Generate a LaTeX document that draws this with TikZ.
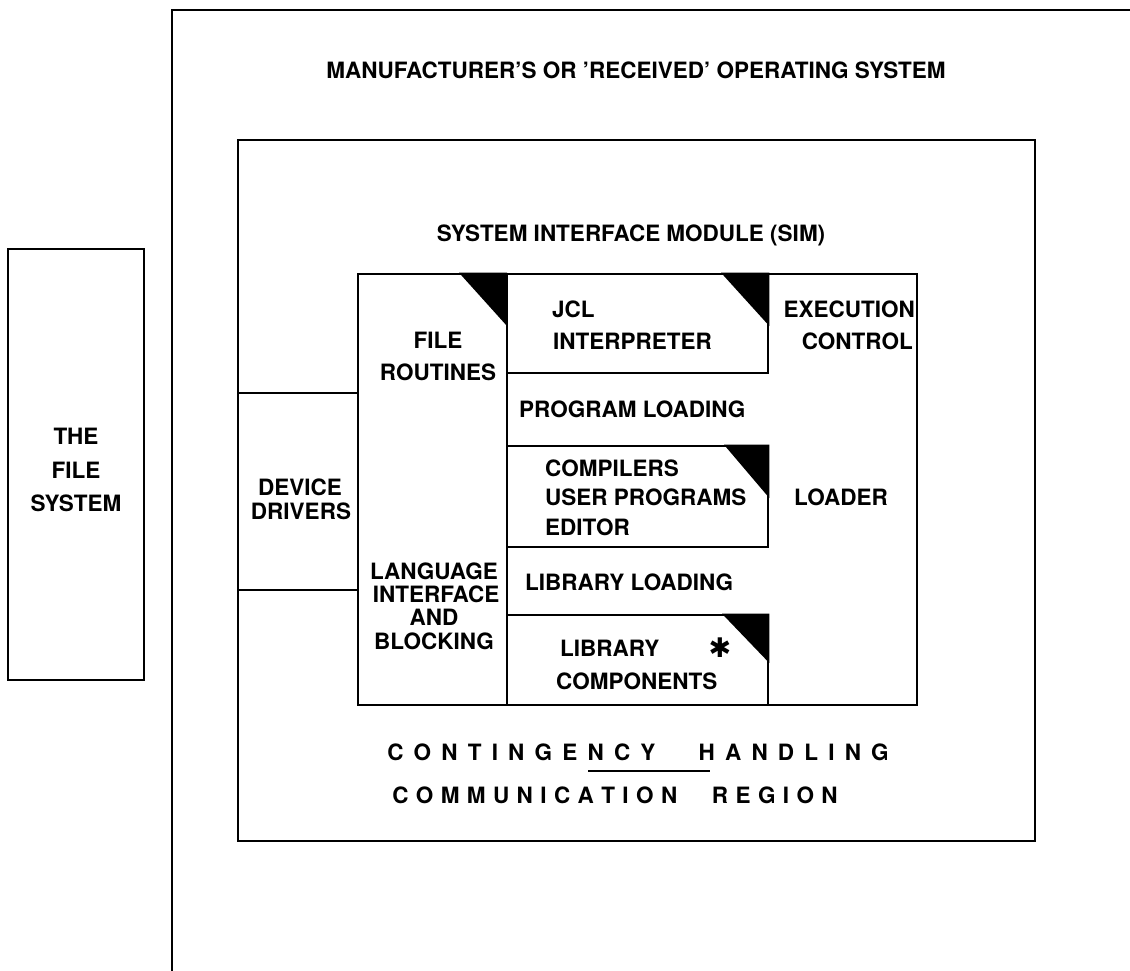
\documentclass[tikz,border=0pt]{standalone}
\usepackage{fontspec}
\setmainfont{TeX Gyre Heros}
\newfontfamily\symfont{DejaVu Sans}
\makeatletter
\newcommand\lsp[2]{\def\lsp@k{#1}\lsp@loop#2\@nil}
\def\lsp@loop#1#2\@nil{#1\ifx\relax#2\relax\else\kern\lsp@k\lsp@loop#2\@nil\fi}
\makeatother
\begin{document}
\begin{tikzpicture}[x=1pt,y=-1pt,
  frame/.style={draw, line width=2.8pt, inner sep=0pt, outer sep=0pt},
  thinframe/.style={draw, line width=2.2pt, inner sep=0pt, outer sep=0pt},
  rule/.style={line width=2.8pt},
  thinrule/.style={line width=2.2pt},
  corner/.style={fill=black},
  lbl/.style={inner sep=0pt, anchor=base, font=\fontsize{22.5}{26}\selectfont\bfseries},
  lblL/.style={lbl, anchor=base west},
  lblR/.style={lbl, anchor=base east}]
\useasboundingbox (0,0) rectangle (1130,970);
% outer operating system box (only left and top edges visible)
\coordinate (osBL) at (172,975);
\coordinate (osTL) at (172,10);
\coordinate (osTR) at (1135,10);
\draw[thinrule] (osBL) -- (osTL) -- (osTR);
% file system box
\node[thinframe, minimum width=136pt, minimum height=431pt] (fs) at (76,464.5) {};
% SIM box
\node[frame, minimum width=797pt, minimum height=701pt] (sim) at (636.5,490.5) {};
% inner block
\node[frame, minimum width=559pt, minimum height=431pt] (inner) at (637.5,489.5) {};
% column divider
\coordinate (colT) at (507,274);
\coordinate (colB) at (507,705);
\draw[rule] (colT) -- (colB);
% JCL box
\coordinate (jclR1) at (768,274);
\coordinate (jclR2) at (768,373);
\coordinate (jclL) at (507,373);
\draw[rule] (jclR1) -- (jclR2) -- (jclL);
% compilers box
\coordinate (cmpTL) at (507,446);
\coordinate (cmpTR) at (768,446);
\coordinate (cmpBR) at (768,547);
\coordinate (cmpBL) at (507,547);
\draw[rule] (cmpTL) -- (cmpTR) -- (cmpBR) -- (cmpBL);
% library components box
\coordinate (libTL) at (507,615);
\coordinate (libTR) at (768,615);
\coordinate (libBR) at (768,705);
\draw[rule] (libTL) -- (libTR) -- (libBR);
% black corners
\fill[corner] (459,272.7) -- (507,272.7) -- (507,326) -- cycle;
\fill[corner] (721,272.7) -- (769.3,272.7) -- (769.3,326) -- cycle;
\fill[corner] (724,444.7) -- (769.3,444.7) -- (769.3,498) -- cycle;
\fill[corner] (722,613.7) -- (769.3,613.7) -- (769.3,663) -- cycle;
% device driver lines
\coordinate (dA1) at (238,393);
\coordinate (dA2) at (358,393);
\coordinate (dB1) at (238,590);
\coordinate (dB2) at (358,590);
\draw[thinrule] (dA1) -- (dA2);
\draw[thinrule] (dB1) -- (dB2);
% texts
\node[lbl] (tOS) at (636,78) {MANUFACTURER'S OR 'RECEIVED' OPERATING SYSTEM};
\node[lbl] (tSIM) at (631,241) {SYSTEM INTERFACE MODULE (SIM)};
\node[lbl] (tFS1) at (76,444) {THE};
\node[lbl] (tFS2) at (76,478) {FILE};
\node[lbl] (tFS3) at (76,511) {SYSTEM};
\node[lbl] (tFR1) at (438,348) {FILE};
\node[lbl] (tFR2) at (438,380) {ROUTINES};
\node[lblL] (tJCL1) at (552,317) {JCL};
\node[lblL] (tJCL2) at (553,349) {INTERPRETER};
\node[lblR] (tEX1) at (915,317) {EXECUTION};
\node[lblR] (tEX2) at (913,349) {CONTROL};
\node[lblL] (tPL) at (519,417) {PROGRAM LOADING};
\node[lblL] (tC1) at (545,476) {COMPILERS};
\node[lblL] (tC2) at (545,505) {USER PROGRAMS};
\node[lblL] (tC3) at (545,535) {EDITOR};
\node[lbl] (tLD) at (841,505) {LOADER};
\node[lbl] (tDD1) at (300,495) {DEVICE};
\node[lbl] (tDD2) at (301,519) {DRIVERS};
\node[lbl] (tLI1) at (434,579) {LANGUAGE};
\node[lbl] (tLI2) at (436,602) {INTERFACE};
\node[lbl] (tLI3) at (434,625) {AND};
\node[lbl] (tLI4) at (434,649) {BLOCKING};
\node[lblL] (tLL) at (525,590) {LIBRARY LOADING};
\node[lblL] (tLC1) at (560,656) {LIBRARY};
\node[inner sep=0pt, font=\symfont\bfseries\fontsize{27}{28}\selectfont] (tStar) at (720,648) {✱};
\node[lblL] (tLC2) at (556,689) {COMPONENTS};
\node[lbl] (tCH) at (638,760) {\lsp{10.2pt}{CONTINGENCY~~HANDLING}};
\node[lbl] (tCR) at (615,803) {\lsp{7.4pt}{COMMUNICATION~~REGION}};
% underline
\coordinate (uL) at (588,771);
\coordinate (uR) at (710,771);
\draw[thinrule] (uL) -- (uR);
\end{tikzpicture}
\end{document}
